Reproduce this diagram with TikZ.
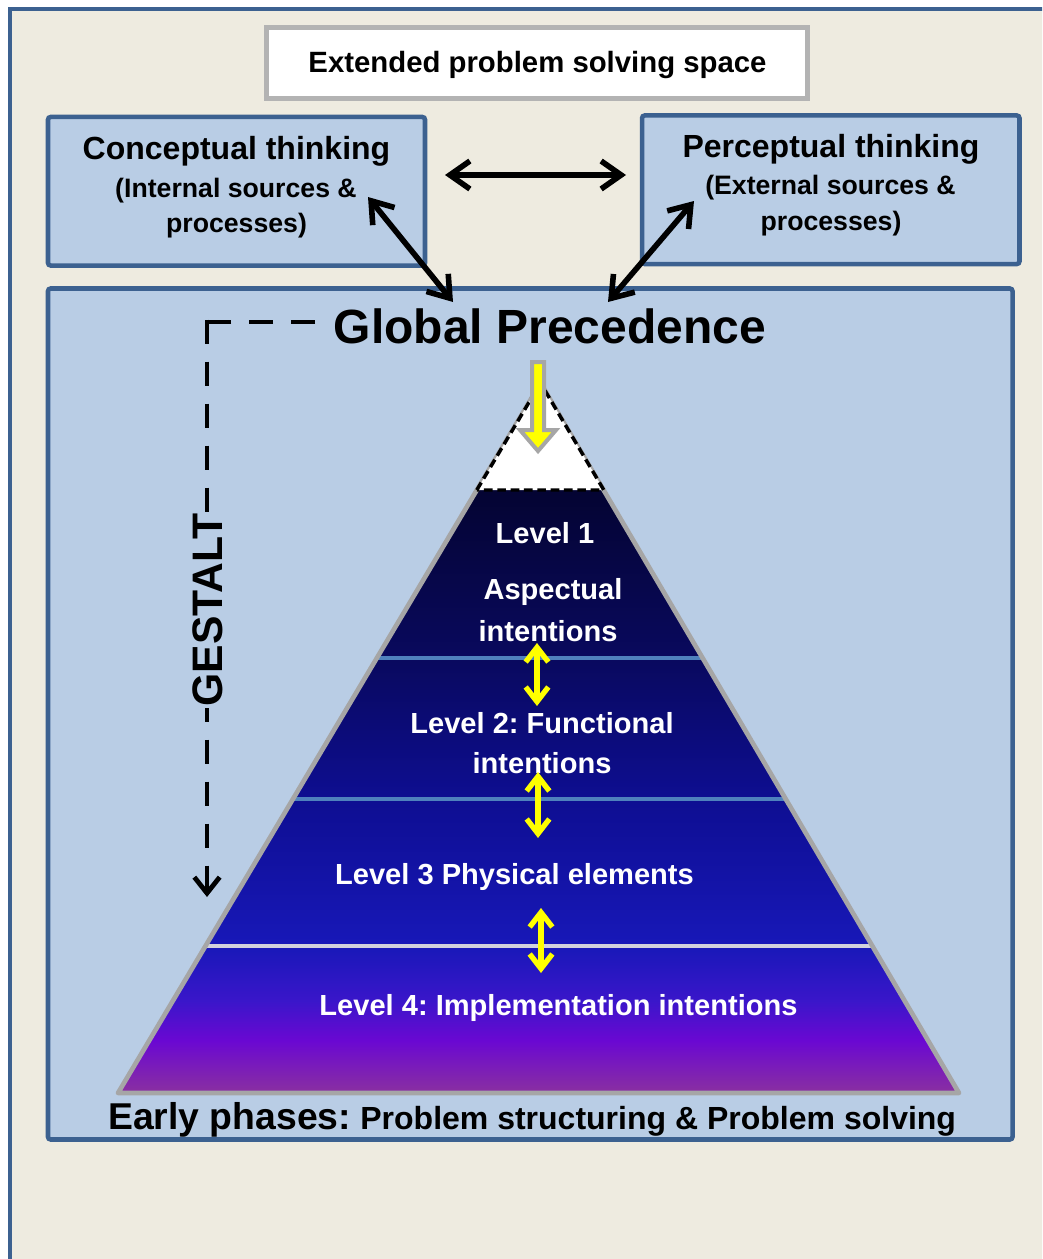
\documentclass[tikz,border=0pt]{standalone}
\usepackage{fontspec}
\setmainfont{Liberation Sans}
\usetikzlibrary{arrows.meta,calc}
\frenchspacing

\definecolor{pagebg}{HTML}{EEEBE0}
\definecolor{frameblue}{HTML}{3C6190}
\definecolor{boxblue}{HTML}{B9CDE5}
\definecolor{edgegray}{HTML}{A6A6A6}
\definecolor{extgray}{HTML}{B3B3B3}
\definecolor{divblue}{HTML}{4F81BD}
\definecolor{divgray}{HTML}{D2D2DC}
\definecolor{arrowyellow}{HTML}{FFFF00}
% pyramid colour stops, top to bottom
\definecolor{pA}{HTML}{040432}
\definecolor{pB}{HTML}{09095E}
\definecolor{pC}{HTML}{0E0E92}
\definecolor{pD}{HTML}{1818B8}
\definecolor{pE}{HTML}{3A16CA}
\definecolor{pF}{HTML}{6A08D2}
\definecolor{pG}{HTML}{8A30A0}

% the picture box maps to 25bp..75bp of the shading
\pgfdeclareverticalshading{pyramidshade}{100bp}{%
  color(0bp)=(pG); color(25bp)=(pG); color(28.7bp)=(pF); color(31.5bp)=(pE);
  color(35.4bp)=(pD); color(45.6bp)=(pC); color(55.6bp)=(pB);
  color(67.5bp)=(pA); color(100bp)=(pA)}

\tikzset{
  bluebox/.style={draw=frameblue, fill=boxblue, line width=3.4pt,
    rounded corners=2pt, inner sep=0pt},
  extbox/.style={draw=extgray, fill=white, line width=3.75pt, inner sep=0pt},
  txt/.style={anchor=base, inner sep=0pt, font=\bfseries},
  lvl/.style={txt, text=white, font=\bfseries\fontsize{21.8}{24}\selectfont},
  blk/.style={line width=4.2pt, >={Straight Barb[length=15pt,width=21pt]}, <->},
  ylw/.style={draw=arrowyellow, line width=4pt,
    >={Straight Barb[length=11pt,width=17pt]}, <->},
  gestaltline/.style={line width=3.6pt, dash pattern=on 18pt off 13.5pt},
  tipdash/.style={line width=2.6pt, dash pattern=on 6.5pt off 3.5pt},
}

\begin{document}
\begin{tikzpicture}[x=0.75pt,y=-0.75pt]
\useasboundingbox (0,0) rectangle (1042,1259);
\clip (0,0) rectangle (1042,1259);

% page and outer frame
\fill[white] (0,0) rectangle (1042,1259);
\draw[frameblue, fill=pagebg, line width=3pt] (9.5,9) rectangle (1090,1300);

% top boxes
\node[extbox, minimum width=405.75pt, minimum height=53.25pt] (ext) at (537,63.5) {};
\node[txt, font=\bfseries\fontsize{22}{26}\selectfont] (extT) at (537.5,73)
  {Extended problem solving space};

\node[bluebox, minimum width=282.75pt, minimum height=111.4pt] (conc) at (236.5,191.25) {};
\node[txt, font=\bfseries\fontsize{24}{28}\selectfont] (concT) at (236.5,160) {Conceptual thinking};
\node[txt, font=\bfseries\fontsize{20}{24}\selectfont] (concS) at (236,197) {(Internal sources \&};
\node[txt, font=\bfseries\fontsize{20}{24}\selectfont] (concP) at (236.5,232) {processes)};

\node[bluebox, minimum width=283.1pt, minimum height=111.4pt] (perc) at (830.75,189.75) {};
\node[txt, font=\bfseries\fontsize{24}{28}\selectfont] (percT) at (831,157) {Perceptual thinking};
\node[txt, font=\bfseries\fontsize{20}{24}\selectfont] (percS) at (830.5,195) {(External sources \&};
\node[txt, font=\bfseries\fontsize{20}{24}\selectfont] (percP) at (831,230) {processes)};

% main panel
\node[bluebox, minimum width=723.4pt, minimum height=638.25pt] (main) at (530.25,714) {};
\node[txt, font=\bfseries\fontsize{36}{40}\selectfont] (glob) at (550,343) {Global Precedence};

% arrow end points
\coordinate (hL) at (445,175);
\coordinate (hR) at (626,175);
\coordinate (dL1) at (368,197);
\coordinate (dL2) at (453,302);
\coordinate (dR1) at (694,201);
\coordinate (dR2) at (608,302);

\draw[blk] (hL) -- (hR);
\draw[blk] (dL1) -- (dL2);
\draw[blk] (dR1) -- (dR2);

% pyramid
\coordinate (apex) at (540.5,383);
\coordinate (bl) at (118,1093);
\coordinate (br) at (959,1093);
\coordinate (tl) at (476.8,490);
\coordinate (tr) at (603.8,490);

\path[shading=pyramidshade] (apex) -- (bl) -- (br) -- cycle;
\draw[divblue, line width=2.3pt] (376.8,658) -- (703,658);
\draw[divblue, line width=2.3pt] (293,799) -- (786,799);
\draw[divgray, line width=3pt] (205.5,946) -- (872,946);
\draw[edgegray, line width=3.5pt, line join=round] (apex) -- (bl) -- (br) -- cycle;
\fill[white] (apex) -- (tl) -- (tr) -- cycle;
\draw[tipdash] (tl) -- (apex) -- (tr) -- cycle;

% level labels
\node[lvl] (l1) at (545,543) {Level 1};
\node[lvl] (l1a) at (553,599) {Aspectual};
\node[lvl] (l1b) at (548,641) {intentions};
\node[lvl] (l2) at (542,733) {Level 2: Functional};
\node[lvl] (l2b) at (542,773) {intentions};
\node[lvl] (l3) at (514.5,884) {Level 3 Physical elements};
\node[lvl] (l4) at (558.5,1015) {Level 4: Implementation intentions};

% links between levels
\coordinate (y1a) at (537,643); \coordinate (y1b) at (537,706);
\coordinate (y2a) at (538,772); \coordinate (y2b) at (538,838);
\coordinate (y3a) at (541,908); \coordinate (y3b) at (541,973);
\draw[ylw] (y1a) -- (y1b);
\draw[ylw] (y2a) -- (y2b);
\draw[ylw] (y3a) -- (y3b);

% block arrow from the heading into the apex
\draw[edgegray, fill=arrowyellow, line width=3pt, line join=miter]
  (532,362) -- (544,362) -- (544,430) -- (556,430) -- (538,451)
  -- (520,430) -- (532,430) -- cycle;

% gestalt path down the left side
\coordinate (gStart) at (315,322);
\coordinate (gCorner) at (207,322);
\coordinate (gEnd) at (207,897);
\draw[gestaltline, shorten >=-1.8pt] (gStart) -- (gCorner);
\draw[gestaltline, shorten <=-1.8pt, ->, >={Straight Barb[length=12pt,width=19pt]}]
  (gCorner) -- (gEnd);
\node[txt, anchor=center, rotate=90, fill=boxblue, inner sep=1pt,
  font=\bfseries\fontsize{32}{34}\selectfont] (gest) at (207.5,610) {GESTALT};

% caption along the base
\node[txt, anchor=base west] (early) at (108,1129)
  {{\fontsize{28}{30}\selectfont Early phases:}\hspace{7pt}{\fontsize{24}{28}\selectfont Problem structuring \& Problem solving}};
\end{tikzpicture}
\end{document}
